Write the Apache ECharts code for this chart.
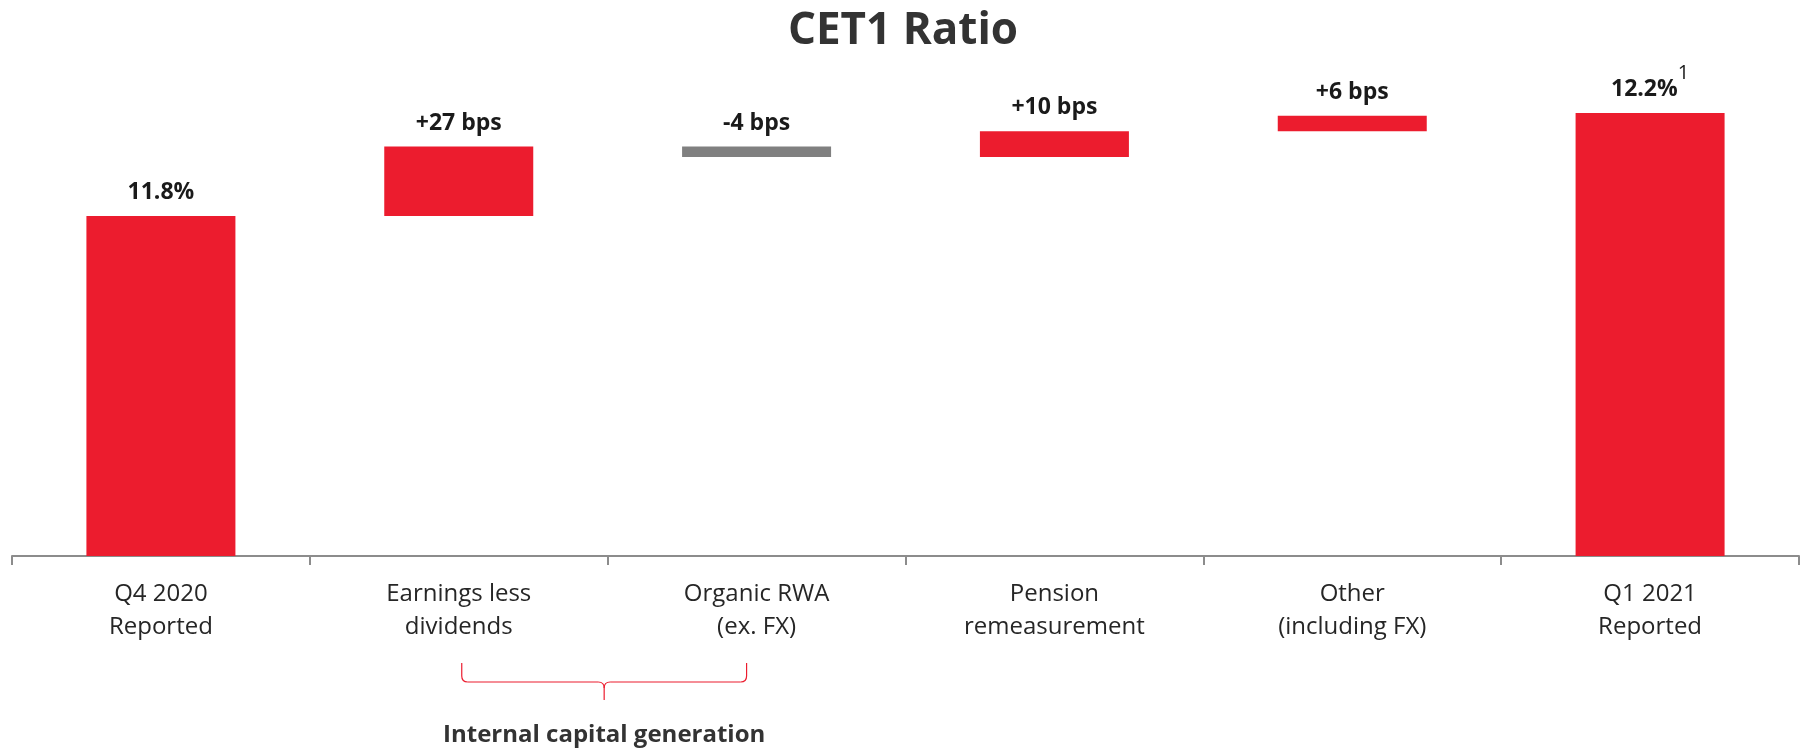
<!DOCTYPE html>
<html>
<head>
<meta charset="utf-8">
<title>CET1 Ratio</title>
<script src="https://cdn.jsdelivr.net/npm/echarts@6/dist/echarts.min.js"></script>
<style>
  html, body { margin: 0; padding: 0; background: #fff; }
  #chart { width: 1806px; height: 750px; }
</style>
</head>
<body>
<div id="chart"></div>
<script>
// data
const categories = ['Q4 2020\nReported', 'Earnings less\ndividends', 'Organic RWA\n(ex. FX)', 'Pension\nremeasurement', 'Other\n(including FX)', 'Q1 2021\nReported'];
const startValue = 11.8;   // %
const endValue = 12.2;     // %
const changesBps = [27, -4, 10, 6];
const barLabels = ['11.8%', '+27 bps', '-4 bps', '+10 bps', '+6 bps', '12.2%'];
const footnote = '1';
const bracketText = 'Internal capital generation';
const bracketFrom = 1;   // category index
const bracketTo = 2;

const RED = '#ec1c2e';
const GREY = '#808080';

// build waterfall (transparent base + visible part)
const baseData = [0];
const barData = [{ value: startValue, itemStyle: { color: RED } }];
let running = startValue;
changesBps.forEach((d) => {
  const next = running + d / 100;
  baseData.push(Math.min(running, next));
  barData.push({ value: Math.abs(d) / 100, itemStyle: { color: d < 0 ? GREY : RED } });
  running = next;
});
baseData.push(0);
barData.push({ value: endValue, itemStyle: { color: RED } });

const chart = echarts.init(document.getElementById('chart'));

const option = {
  animation: false,
  title: {
    text: 'CET1 Ratio',
    left: 'center',
    top: 4,
    textStyle: { fontFamily: 'Open Sans', fontSize: 44, fontWeight: 'bold', color: '#333' }
  },
  grid: { left: 12, right: 7, top: 41, bottom: 194 },
  xAxis: {
    type: 'category',
    data: categories,
    axisLine: { lineStyle: { color: '#8c8c8c', width: 2 } },
    axisTick: { show: true, alignWithLabel: false, interval: 0, length: 9, lineStyle: { color: '#8c8c8c', width: 2 } },
    axisLabel: {
      margin: 22,
      fontFamily: 'Open Sans',
      fontSize: 24,
      lineHeight: 33,
      color: '#262626'
    }
  },
  yAxis: {
    type: 'value',
    min: 10.48,
    max: 12.48,
    show: false
  },
  series: [
    {
      type: 'bar',
      stack: 'wf',
      silent: true,
      barWidth: 149,
      itemStyle: { color: 'transparent' },
      data: baseData
    },
    {
      type: 'bar',
      stack: 'wf',
      barWidth: 149,
      data: barData,
      label: {
        show: true,
        position: 'top',
        distance: 12,
        formatter: (p) => {
          const t = barLabels[p.dataIndex];
          return p.dataIndex === barLabels.length - 1 ? '{v|' + t + '}{sup|' + footnote + '}' : '{v|' + t + '}';
        },
        rich: {
          v: { fontFamily: 'Open Sans', fontSize: 23, fontWeight: 'bold', color: '#1a1a1a', lineHeight: 30, verticalAlign: 'bottom' },
          sup: { fontFamily: 'Open Sans', fontSize: 20, color: '#1a1a1a', lineHeight: 22, padding: [0, 0, 18, 0], verticalAlign: 'bottom' }
        }
      }
    }
  ]
};
chart.setOption(option);

// curly bracket under two categories
const x1 = chart.convertToPixel({ xAxisIndex: 0 }, bracketFrom) + 3;
const x2 = chart.convertToPixel({ xAxisIndex: 0 }, bracketTo) - 10;
const mid = (x1 + x2) / 2;
const yTop = 663, yLine = 682, yTip = 700;
const bracketStyle = { stroke: RED, lineWidth: 1.2, fill: null };
chart.setOption({
  graphic: [
    { type: 'line', shape: { x1: x1, y1: yTop, x2: x1, y2: yLine - 6 }, style: bracketStyle },
    { type: 'bezierCurve', shape: { x1: x1, y1: yLine - 6, cpx1: x1, cpy1: yLine, x2: x1 + 6, y2: yLine }, style: bracketStyle },
    { type: 'line', shape: { x1: x1 + 6, y1: yLine, x2: mid - 6, y2: yLine }, style: bracketStyle },
    { type: 'bezierCurve', shape: { x1: mid - 6, y1: yLine, cpx1: mid, cpy1: yLine, x2: mid, y2: yLine + 6 }, style: bracketStyle },
    { type: 'bezierCurve', shape: { x1: mid + 6, y1: yLine, cpx1: mid, cpy1: yLine, x2: mid, y2: yLine + 6 }, style: bracketStyle },
    { type: 'line', shape: { x1: mid, y1: yLine + 6, x2: mid, y2: yTip }, style: bracketStyle },
    { type: 'line', shape: { x1: mid + 6, y1: yLine, x2: x2 - 6, y2: yLine }, style: bracketStyle },
    { type: 'bezierCurve', shape: { x1: x2 - 6, y1: yLine, cpx1: x2, cpy1: yLine, x2: x2, y2: yLine - 6 }, style: bracketStyle },
    { type: 'line', shape: { x1: x2, y1: yLine - 6, x2: x2, y2: yTop }, style: bracketStyle },
    {
      type: 'text',
      x: mid,
      y: 735,
      style: {
        text: bracketText,
        align: 'center',
        verticalAlign: 'middle',
        fontFamily: 'Open Sans',
        fontSize: 24,
        fontWeight: 'bold',
        fill: '#333'
      }
    }
  ]
});
</script>
</body>
</html>
